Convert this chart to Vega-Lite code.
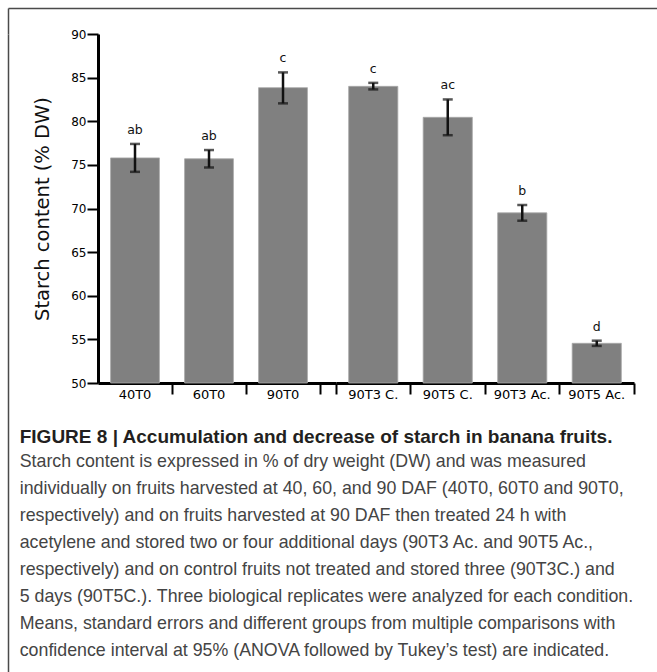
{
  "$schema": "https://vega.github.io/schema/vega-lite/v6.json",
  "background": "white",
  "padding": {"left": 8, "top": 8, "right": 0, "bottom": 0},
  "datasets": {
    "starch": [
      {"cond": "40T0", "mean": 75.8, "lo": 74.2, "hi": 77.4, "grp": "ab"},
      {"cond": "60T0", "mean": 75.7, "lo": 74.7, "hi": 76.7, "grp": "ab"},
      {"cond": "90T0", "mean": 83.85, "lo": 82.05, "hi": 85.6, "grp": "c"},
      {"cond": "90T3 C.", "mean": 84.0, "lo": 83.65, "hi": 84.4, "grp": "c"},
      {"cond": "90T5 C.", "mean": 80.45, "lo": 78.4, "hi": 82.5, "grp": "ac"},
      {"cond": "90T3 Ac.", "mean": 69.5, "lo": 68.6, "hi": 70.4, "grp": "b"},
      {"cond": "90T5 Ac.", "mean": 54.55, "lo": 54.25, "hi": 54.85, "grp": "d"}
    ]
  },
  "spacing": 0,
  "bounds": "flush",
  "vconcat": [
    {
      "width": 649,
      "height": 26,
      "data": {"values": []},
      "mark": {"type": "point", "opacity": 0},
      "encoding": {
        "x": {"field": "fx", "type": "quantitative", "scale": {"domain": [0, 1]},
              "axis": {"orient": "top", "title": null, "labels": false, "ticks": false, "grid": false, "domainColor": "#4a4a4a", "domainWidth": 1.5}},
        "y": {"field": "fy", "type": "quantitative", "scale": {"domain": [0, 1]},
              "axis": {"orient": "left", "title": null, "labels": false, "ticks": false, "grid": false, "domainColor": "#4a4a4a", "domainWidth": 1.5}}
      }
    },
    {
      "spacing": 70,
      "bounds": "flush",
      "hconcat": [
        {
          "width": 20,
          "height": 638,
          "data": {"values": []},
          "mark": {"type": "point", "opacity": 0},
          "encoding": {
            "y": {"field": "fy", "type": "quantitative", "scale": {"domain": [0, 1]},
                  "axis": {"orient": "left", "title": null, "labels": false, "ticks": false, "grid": false, "domainColor": "#4a4a4a", "domainWidth": 1.5}}
          }
        },
        {
          "spacing": 0,
          "bounds": "flush",
          "title": {
            "text": "FIGURE 8 | Accumulation and decrease of starch in banana fruits.",
            "subtitle": [
              "Starch content is expressed in % of dry weight (DW) and was measured",
              "individually on fruits harvested at 40, 60, and 90 DAF (40T0, 60T0 and 90T0,",
              "respectively) and on fruits harvested at 90 DAF then treated 24 h with",
              "acetylene and stored two or four additional days (90T3 Ac. and 90T5 Ac.,",
              "respectively) and on control fruits not treated and stored three (90T3C.) and",
              "5 days (90T5C.). Three biological replicates were analyzed for each condition.",
              "Means, standard errors and different groups from multiple comparisons with",
              "confidence interval at 95% (ANOVA followed by Tukey’s test) are indicated."
            ],
            "orient": "bottom",
            "anchor": "start",
            "dx": -13,
            "offset": 27,
            "font": "Liberation Sans",
            "fontSize": 19,
            "fontWeight": "bold",
            "color": "#231f20",
            "subtitleFont": "Liberation Sans",
            "subtitleFontSize": 17.8,
            "subtitleColor": "#444444",
            "subtitleLineHeight": 27,
            "subtitlePadding": 6
          },
          "hconcat": [
            {
              "width": 238,
              "height": 349,
              "data": {"name": "starch"},
              "transform": [{"filter": {"field": "cond", "oneOf": ["40T0", "60T0", "90T0"]}}],
              "encoding": {
                "x": {
                  "field": "cond", "type": "nominal", "sort": null,
                  "scale": {"paddingInner": 0, "paddingOuter": 0.108, "align": 0},
                  "axis": {"title": null, "labelAngle": 0, "bandPosition": 1, "tickExtra": false,
                           "domainColor": "black", "domainWidth": 3, "tickColor": "black", "tickWidth": 2, "tickSize": 11,
                           "labelFont": "DejaVu Sans", "labelFontSize": 13, "labelColor": "#000000", "labelPadding": -6}
                }
              },
              "layer": [
                {
                  "mark": {"type": "bar", "width": {"band": 0.66}, "fill": "#808080", "stroke": "#a8a8a8", "strokeWidth": 0.8},
                  "encoding": {
                    "y": {"field": "mean", "type": "quantitative", "title": "Starch content (% DW)",
                          "scale": {"domain": [50, 90], "nice": false, "zero": false},
                          "axis": {"title": "Starch content (% DW)", "values": [50, 55, 60, 65, 70, 75, 80, 85, 90], "grid": false,
                                   "domainColor": "black", "domainWidth": 3, "tickColor": "black", "tickWidth": 2, "tickSize": 11,
                                   "labelFont": "DejaVu Sans", "labelFontSize": 12, "labelColor": "#000000", "labelPadding": 1,
                                   "titleFont": "DejaVu Sans", "titleFontSize": 19.5, "titleFontWeight": "normal", "titleColor": "#111111", "titlePadding": 18}},
                    "y2": {"datum": 50}
                  }
                },
                {
                  "mark": {"type": "errorbar", "thickness": 2.5, "color": "#111111", "ticks": {"size": 10, "thickness": 2.5, "color": "#111111"}},
                  "encoding": {
                    "y": {"field": "lo", "type": "quantitative", "title": "Starch content (% DW)"},
                    "y2": {"field": "hi"}
                  }
                },
                {
                  "mark": {"type": "text", "font": "DejaVu Sans", "fontSize": 12.5, "color": "#111111", "baseline": "alphabetic", "dy": -10},
                  "encoding": {
                    "y": {"field": "hi", "type": "quantitative", "title": "Starch content (% DW)"},
                    "text": {"field": "grp"}
                  }
                }
              ]
            },
            {
              "width": 298,
              "height": 349,
              "data": {"name": "starch"},
              "transform": [{"filter": {"field": "cond", "oneOf": ["90T3 C.", "90T5 C.", "90T3 Ac.", "90T5 Ac."]}}],
              "encoding": {
                "x": {
                  "field": "cond", "type": "nominal", "sort": null,
                  "scale": {"paddingInner": 0, "paddingOuter": 0},
                  "axis": {"title": null, "labelAngle": 0, "bandPosition": 1, "tickExtra": true,
                           "domainColor": "black", "domainWidth": 3, "tickColor": "black", "tickWidth": 2, "tickSize": 11,
                           "labelFont": "DejaVu Sans", "labelFontSize": 13, "labelColor": "#000000", "labelPadding": -6}
                }
              },
              "layer": [
                {
                  "mark": {"type": "bar", "width": {"band": 0.66}, "fill": "#808080", "stroke": "#a8a8a8", "strokeWidth": 0.8},
                  "encoding": {
                    "y": {"field": "mean", "type": "quantitative",
                          "scale": {"domain": [50, 90], "nice": false, "zero": false},
                          "axis": null},
                    "y2": {"datum": 50}
                  }
                },
                {
                  "mark": {"type": "errorbar", "thickness": 2.5, "color": "#111111", "ticks": {"size": 10, "thickness": 2.5, "color": "#111111"}},
                  "encoding": {
                    "y": {"field": "lo", "type": "quantitative"},
                    "y2": {"field": "hi"}
                  }
                },
                {
                  "mark": {"type": "text", "font": "DejaVu Sans", "fontSize": 12.5, "color": "#111111", "baseline": "alphabetic", "dy": -10},
                  "encoding": {
                    "y": {"field": "hi", "type": "quantitative"},
                    "text": {"field": "grp"}
                  }
                }
              ]
            }
          ]
        }
      ]
    }
  ],
  "config": {
    "view": {"stroke": null},
    "axis": {"labelOverlap": false}
  }
}
